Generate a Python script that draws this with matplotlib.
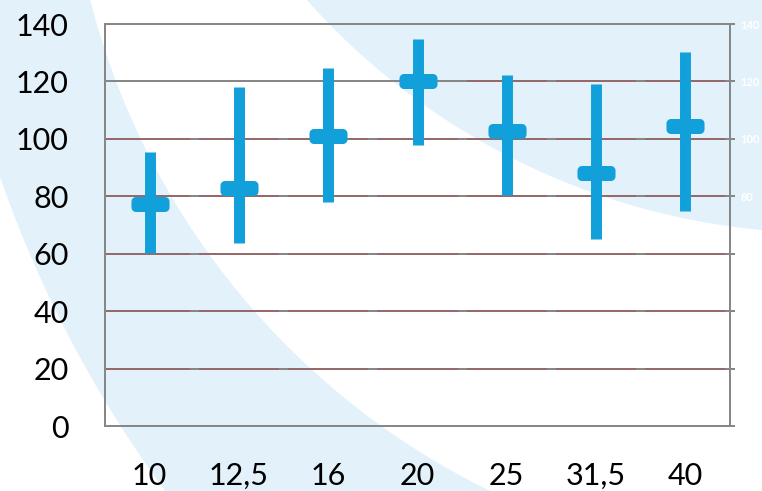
import matplotlib
matplotlib.use("Agg")
import matplotlib.pyplot as plt
from matplotlib.patches import Circle
from matplotlib.path import Path
import numpy as np

# Data: high / low range and central value per size class
categories = ["10", "12,5", "16", "20", "25", "31,5", "40"]
high = [95.4, 118.0, 124.7, 134.8, 122.3, 119.1, 130.2]
low = [60.2, 63.7, 78.0, 97.9, 80.5, 65.1, 74.9]
mid = [77.3, 82.9, 101.0, 120.2, 102.8, 88.1, 104.5]
y_ticks = [0, 20, 40, 60, 80, 100, 120, 140]

BLUE = "#12A0DA"
WASH = "#E3F2FA"
GRAY = "#878787"
BROWN = "#966A6A"

plt.rcParams["font.family"] = ["Lato", "DejaVu Sans"]

W, H = 762, 491
fig = plt.figure(figsize=(W / 100, H / 100), dpi=100)
fig.patch.set_facecolor("white")

# Pale background logo arcs, in pixel units
bg = fig.add_axes([0, 0, 1, 1], zorder=0)
bg.set_xlim(0, W)
bg.set_ylim(H, 0)
bg.axis("off")
bg.add_patch(Circle((1125, -214), 1191, color=WASH, lw=0))
bg.add_patch(Circle((820, -186), 753, color="white", lw=0))
bg.add_patch(Circle((826, -462), 695, color=WASH, lw=0))

# Plot area
left, right, top, bottom = 105, 730, 24, 426
ax = fig.add_axes([left / W, (H - bottom) / H, (right - left) / W, (bottom - top) / H], zorder=2)
ax.set_facecolor("none")
n = len(categories)
x = np.arange(n)
ax.set_xlim(-0.5, n - 0.5)
ax.set_ylim(0, 140)

# Gridlines: gray base with brown segments between category boundaries
gap = 4.5 / ((right - left) / n)
for yv in y_ticks[1:-1]:
    ax.plot([-0.5, n - 0.5], [yv, yv], color=GRAY, lw=1.44, zorder=1, solid_capstyle="butt")
    start = 4 if yv == 120 else 0
    for i in range(start, n):
        x0 = i - 0.5 + (gap if i > 0 else 0)
        x1 = i + 0.5 - gap
        ax.plot([x0, x1], [yv, yv], color=BROWN, lw=1.44, zorder=1.5, solid_capstyle="butt")

for side in ["left", "bottom", "top", "right"]:
    ax.spines[side].set_color(GRAY)
    ax.spines[side].set_linewidth(1.44)

# Rounded-rectangle marker for the central value
def rounded_rect(w=38.0, h=15.0, r=4.5, k=6):
    pts = []
    corners = [(w / 2 - r, h / 2 - r, 0), (-w / 2 + r, h / 2 - r, 90),
               (-w / 2 + r, -h / 2 + r, 180), (w / 2 - r, -h / 2 + r, 270)]
    for cx, cy, a0 in corners:
        for t in np.linspace(np.radians(a0), np.radians(a0 + 90), k):
            pts.append((cx + r * np.cos(t), cy + r * np.sin(t)))
    pts.append(pts[0])
    codes = [Path.MOVETO] + [Path.LINETO] * (len(pts) - 2) + [Path.CLOSEPOLY]
    return Path(pts, codes)

ax.vlines(x, low, high, color=BLUE, lw=7.9, zorder=3)
ax.plot(x, mid, linestyle="none", marker=rounded_rect(), markersize=27.4,
        color=BLUE, markeredgewidth=0, zorder=4)

ax.set_xticks(x)
ax.set_xticklabels(categories)
ax.set_yticks(y_ticks)
ax.tick_params(axis="x", length=0, pad=26, labelsize=22, labelcolor="black")
ax.tick_params(axis="y", length=0, pad=26, labelsize=22, labelcolor="black")

# Secondary scale on the right (white labels)
ax2 = ax.twinx()
ax2.set_ylim(0, 140)
ax2.set_yticks(y_ticks)
for side in ["left", "bottom", "top"]:
    ax2.spines[side].set_visible(False)
ax2.spines["right"].set_color(GRAY)
ax2.spines["right"].set_linewidth(1.44)
ax2.tick_params(axis="y", length=3.6, width=1.44, color=GRAY, pad=4,
                labelsize=8, labelcolor="white")
for lab in ax2.get_yticklabels():
    lab.set_fontweight("bold")

fig.savefig("out.png", dpi=100, facecolor="white")
